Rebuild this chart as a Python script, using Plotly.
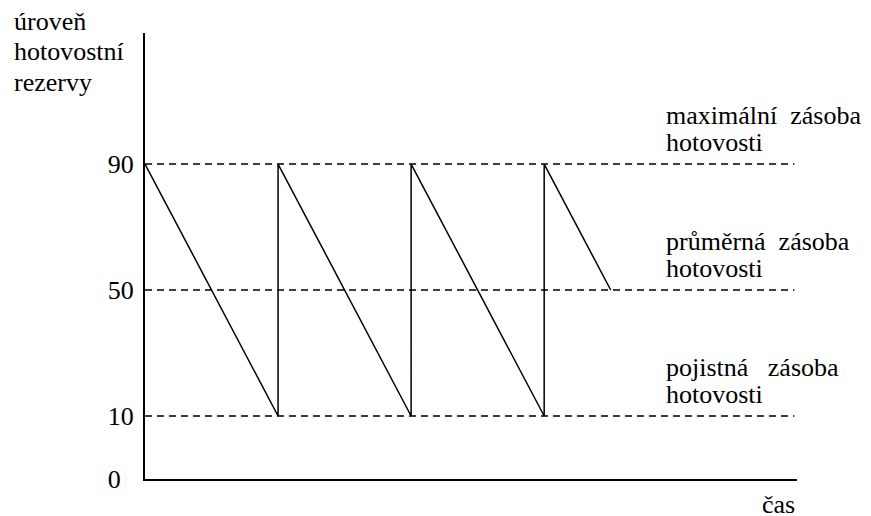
import plotly.graph_objects as go

# sawtooth of cash level over time (time in cycles)
time_pts = [0, 1, 1, 2, 2, 3, 3, 3.5]
cash_level = [90, 10, 90, 10, 90, 10, 90, 50]

# reference levels with their two-line labels
ref_levels = [90, 50, 10]
ref_line1 = [
    "maximální\u00a0 zásoba",
    "průměrná\u00a0 zásoba",
    "pojistná\u00a0\u00a0 zásoba",
]
ref_line2 = ["hotovosti", "hotovosti", "hotovosti"]

# y axis is broken below 10, so the origin sits at -10 and shows "0"
tick_vals = [-10, 10, 50, 90]
tick_text = ["0\u2007", "10", "50", "90"]

y_title = ["úroveň", "hotovostní", "rezervy"]
x_title = "čas"

x_max = 4.9
font = dict(family="Liberation Serif", size=26, color="black")

fig = go.Figure()

for lvl in ref_levels:
    fig.add_trace(go.Scatter(
        x=[0, x_max - 0.02], y=[lvl, lvl], mode="lines",
        line=dict(color="black", width=1.5, dash="7px,5px"),
        hoverinfo="skip", showlegend=False,
    ))

fig.add_trace(go.Scatter(
    x=time_pts, y=cash_level, mode="lines",
    line=dict(color="black", width=1.5), showlegend=False,
))

for lvl, l1, l2 in zip(ref_levels, ref_line1, ref_line2):
    for txt, shift in ((l1, 49), (l2, 22)):
        fig.add_annotation(
            x=3.9, y=lvl, xref="x", yref="y", text=txt, showarrow=False,
            xanchor="left", yanchor="middle", yshift=shift, font=font,
        )

for i, line in enumerate(y_title):
    fig.add_annotation(
        x=-0.204, y=1.025 - i * 0.0675, xref="paper", yref="paper", text=line,
        showarrow=False, xanchor="left", yanchor="middle", font=font,
    )

fig.add_annotation(
    x=1, y=-0.058, xref="paper", yref="paper", text=x_title,
    showarrow=False, xanchor="right", yanchor="middle", font=font,
)

fig.update_xaxes(
    range=[0, x_max], showgrid=False, zeroline=False, showticklabels=False,
    showline=True, linecolor="black", linewidth=2,
)
fig.update_yaxes(
    range=[-10, 131.6], showgrid=False, zeroline=False,
    tickvals=tick_vals, ticktext=tick_text, ticks="", ticklabelstandoff=4,
    showline=True, linecolor="black", linewidth=2, tickfont=font,
)

# page body adds an 8px offset, so the figure is shrunk by 8px to fit the window
fig.update_layout(
    width=863, height=508,
    margin=dict(l=137, r=74, t=25, b=37),
    plot_bgcolor="white", paper_bgcolor="white",
    font=font,
)

fig.write_html("out.html")
